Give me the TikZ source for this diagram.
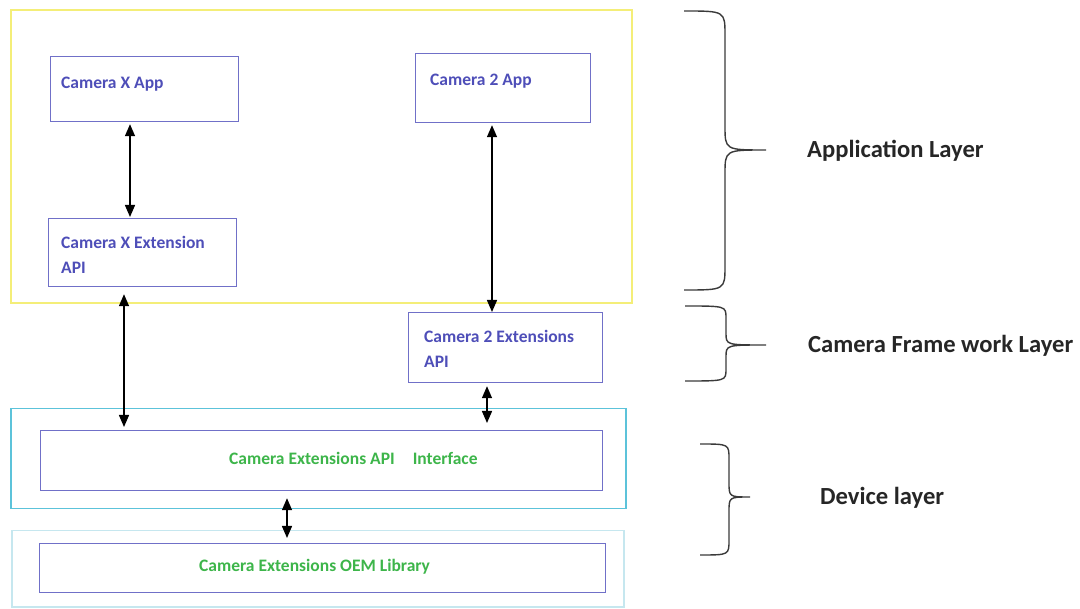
\documentclass[tikz,border=0pt]{standalone}
\usepackage{fontspec}
\setmainfont{Carlito}
\usetikzlibrary{arrows.meta,calc}

\definecolor{boxline}{HTML}{7070C8}
\definecolor{bluetext}{HTML}{4E4EB8}
\definecolor{greentext}{HTML}{3DB54A}
\definecolor{appline}{HTML}{F4EE78}
\definecolor{devline}{HTML}{5CC3DA}
\definecolor{oemline}{HTML}{C6E7EF}
\definecolor{braceline}{HTML}{3A3A3A}

\tikzset{
  compbox/.style={draw=boxline, line width=1.2pt, anchor=north west, inner sep=0pt},
  boxtext/.style={anchor=base west, inner sep=0pt, text=bluetext,
    font=\fontsize{17.5}{25}\selectfont\bfseries},
  greenlabel/.style={anchor=base west, inner sep=0pt, text=greentext,
    font=\fontsize{17.5}{25}\selectfont\bfseries},
  layerlabel/.style={anchor=base west, inner sep=0pt, text=black!85,
    font=\fontsize{24.6}{28}\selectfont\bfseries},
  link/.style={{Triangle[length=12pt,width=10pt]}-{Triangle[length=12pt,width=10pt]},
    line width=1.4pt, black},
  bracestroke/.style={draw=braceline, line width=1.4pt}
}

% one curly brace: left ends x0, spine xv, tip xt, top yt, tip ym, bottom yb, corner radius r
\newcommand\layerbrace[7]{%
  \draw[bracestroke] (#1,#4) .. controls (#2,#4) .. (#2,{#4+#7})
    -- (#2,{#5-#7}) .. controls (#2,#5) .. (#3,#5)
    .. controls (#2,#5) .. (#2,{#5+#7})
    -- (#2,{#6-#7}) .. controls (#2,#6) .. (#1,#6);}

\begin{document}
\begin{tikzpicture}[x=1pt,y=-1pt]
\useasboundingbox (0,0) rectangle (1080,609);

% layer containers
\node[draw=appline, line width=2pt, anchor=north west, inner sep=0pt,
      minimum width=621pt, minimum height=293pt] (applayer) at (10,9) {};
\node[draw=devline, line width=1.5pt, anchor=north west, inner sep=0pt,
      minimum width=615pt, minimum height=100pt] (devlayer) at (10,408) {};
\node[draw=oemline, line width=1.5pt, anchor=north west, inner sep=0pt,
      minimum width=612pt, minimum height=76pt] (oemlayer) at (11,530) {};

% component boxes
\node[compbox, minimum width=188pt, minimum height=65pt] (cxapp) at (50,56) {};
\node[compbox, minimum width=188pt, minimum height=68pt] (cxext) at (48,218) {};
\node[compbox, minimum width=175pt, minimum height=69pt] (c2app) at (415,53) {};
\node[compbox, minimum width=194pt, minimum height=70pt] (c2ext) at (408,312) {};
\node[compbox, minimum width=562pt, minimum height=60pt] (iface) at (40,430) {};
\node[compbox, minimum width=566pt, minimum height=49pt] (oem) at (39,543) {};

% box captions
\node[boxtext] (cxapptxt) at (61,89) {Camera X App};
\node[boxtext, text width=170pt, align=flush left] (cxexttxt) at (61,249) {Camera X Extension\\API};
\node[boxtext] (c2apptxt) at (430,86) {Camera 2 App};
\node[boxtext, text width=175pt, align=flush left] (c2exttxt) at (424,343) {Camera 2 Extensions\\API};
\node[greenlabel] (ifacetxt) at (229,465) {Camera Extensions API\hspace{18pt}Interface};
\node[greenlabel] (oemtxt) at (199,572) {Camera Extensions OEM Library};

% connectors
\coordinate (xa) at (130,0);
\coordinate (xb) at (492,0);
\coordinate (xc) at (124,0);
\coordinate (xd) at (487,0);
\coordinate (xe) at (287,0);
\draw[link, shorten <=2pt, shorten >=1pt] (cxapp.south -| xa) -- (cxext.north -| xa);
\draw[link, shorten <=2pt] (c2app.south -| xb) -- (c2ext.north -| xb);
\draw[link, shorten <=7pt, shorten >=3pt] (cxext.south -| xc) -- (iface.north -| xc);
\draw[link, shorten <=3pt, shorten >=7pt] (c2ext.south -| xd) -- (iface.north -| xd);
\draw[link, shorten <=7pt, shorten >=5pt] (iface.south -| xe) -- (oem.north -| xe);

% layer braces
\layerbrace{684}{725}{766}{11}{150}{290}{24}
\layerbrace{685}{726}{766}{306}{345}{381}{12}
\layerbrace{700}{729}{750}{444}{497}{555}{15}

% layer names
\node[layerlabel] (applbl) at (807,158) {Application Layer};
\node[layerlabel] (fwlbl) at (808,353) {Camera Frame work Layer};
\node[layerlabel] (devlbl) at (820,505) {Device layer};
\end{tikzpicture}
\end{document}
